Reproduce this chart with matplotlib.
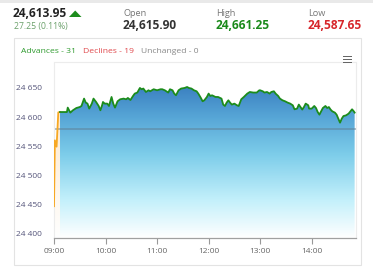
import numpy as np
import matplotlib
matplotlib.use("Agg")
import matplotlib.pyplot as plt
from matplotlib.colors import LinearSegmentedColormap
from matplotlib.patches import Polygon, Rectangle

# ---------------- data ----------------
# minutes after 09:00
pre_minutes = [0, 1, 3, 5, 7]
pre_values = [24446.6, 24560.0, 24549.0, 24608.0, 24608.6]

minutes = [7, 15, 16, 19, 22, 25, 26, 30, 32, 35, 37, 39, 41, 44, 46, 49, 52, 54, 56, 57,
           59, 62, 64, 67, 69, 71, 74, 77, 81, 84, 86, 89, 92, 94, 97, 100, 102, 104, 107, 110,
           112, 116, 120, 124, 126, 129, 133, 135, 138, 140, 142, 145, 148, 152, 155, 157, 160, 163, 166, 168,
           171, 173, 175, 178, 180, 182, 184, 188, 191, 195, 197, 199, 201, 203, 205, 207, 210, 213, 215, 218,
           221, 225, 228, 232, 236, 239, 240, 243, 245, 248, 251, 253, 256, 258, 261, 263, 266, 269, 272, 275,
           278, 280, 283, 285, 287, 289, 291, 293, 296, 297, 300, 303, 305, 307, 309, 311, 313, 316, 318, 320,
           322, 324, 327, 329, 331, 333, 335, 337, 340, 343, 347, 349, 350]
values = [24608.6, 24608.6, 24616.2, 24607.6, 24611.6, 24614.5, 24615.5, 24617.2, 24619.0, 24631.7,
          24624.8, 24623.1, 24614.5, 24623.1, 24631.7, 24625.9, 24619.0, 24611.6, 24620.2, 24625.9,
          24623.1, 24623.1, 24619.0, 24634.5, 24623.1, 24616.2, 24627.1, 24630.5, 24631.7, 24630.5,
          24632.8, 24629.3, 24636.2, 24640.3, 24642.1, 24650.0, 24647.8, 24649.0, 24643.1, 24646.0,
          24644.3, 24647.8, 24646.0, 24647.8, 24647.8, 24646.0, 24642.1, 24647.8, 24646.0, 24640.3,
          24637.4, 24646.0, 24649.0, 24650.0, 24651.7, 24650.0, 24649.0, 24646.0, 24644.3, 24640.3,
          24632.8, 24627.1, 24628.8, 24634.5, 24640.3, 24636.2, 24637.4, 24634.5, 24634.5, 24631.7,
          24621.4, 24619.0, 24624.8, 24628.8, 24624.8, 24621.4, 24623.1, 24620.2, 24619.0, 24630.5,
          24634.5, 24640.3, 24643.1, 24642.1, 24642.1, 24646.0, 24646.0, 24644.3, 24642.1, 24643.1,
          24640.3, 24643.1, 24644.3, 24640.3, 24636.2, 24631.7, 24628.8, 24627.1, 24624.8, 24623.1,
          24620.2, 24613.3, 24614.5, 24621.4, 24617.2, 24612.8, 24617.2, 24623.1, 24620.2, 24614.5,
          24614.5, 24619.0, 24615.5, 24608.6, 24604.1, 24609.8, 24615.5, 24619.0, 24615.5, 24617.2,
          24612.8, 24609.8, 24607.6, 24604.1, 24597.2, 24590.3, 24597.2, 24601.7, 24602.9, 24605.9,
          24613.3, 24609.8, 24607.6]

prev_close_line = 24580.0
y_ticks = [24400, 24450, 24500, 24550, 24600, 24650]
x_tick_minutes = [0, 60, 120, 180, 240, 300]
x_tick_labels = ["09:00", "10:00", "11:00", "12:00", "13:00", "14:00"]

last_price = "24,613.95"
change_text = "27.25 (0.11%)"
open_text, high_text, low_text = "24,615.90", "24,661.25", "24,587.65"
breadth_labels = ["Advances - 31", "Declines - 19", "Unchanged - 0"]

# ---------------- figure ----------------
W, H = 373, 269
fig = plt.figure(figsize=(W / 100, H / 100), dpi=100)
fig.patch.set_facecolor("white")

def fx(px):
    return px / W

def fy(py):
    return 1 - py / H

# top grey strip
fig.patches.append(Rectangle((0, fy(3)), 1, 3 / H, transform=fig.transFigure,
                             facecolor="#e9e9e9", edgecolor="none", zorder=-2))
# card border
fig.patches.append(Rectangle((fx(14), fy(264.5)), fx(361) - fx(14), (264.5 - 38) / H,
                             transform=fig.transFigure, facecolor="white",
                             edgecolor="#e3e3e3", linewidth=0.8, zorder=-2))

FONT = "Open Sans"
fig.text(fx(13), fy(14), last_price, fontsize=8.6, fontweight="bold", color="#222222",
         family=FONT, va="center", ha="left")
fig.patches.append(Polygon([[fx(69), fy(17)], [fx(81.5), fy(17)], [fx(75.2), fy(10.5)]],
                           closed=True, transform=fig.transFigure, facecolor="#1c8c1c",
                           edgecolor="none"))
fig.text(fx(14), fy(26.5), change_text, fontsize=6.2, color="#6aa06a", family=FONT,
         va="center", ha="left")

fig.text(fx(123), fy(13), "Open", fontsize=6.6, color="#777777", family=FONT, va="center")
fig.text(fx(123), fy(25.5), open_text, fontsize=8.6, fontweight="bold", color="#333333",
         family=FONT, va="center")
fig.text(fx(216), fy(13), "High", fontsize=6.6, color="#777777", family=FONT, va="center")
fig.text(fx(216), fy(25.5), high_text, fontsize=8.6, fontweight="bold", color="#1a8a1a",
         family=FONT, va="center")
fig.text(fx(308), fy(13), "Low", fontsize=6.6, color="#777777", family=FONT, va="center")
fig.text(fx(308), fy(25.5), low_text, fontsize=8.6, fontweight="bold", color="#d7262b",
         family=FONT, va="center")

bcolors = ["#2e9a2e", "#e0484c", "#888888"]
bx = [21, 83, 141]
for lab, c, x in zip(breadth_labels, bcolors, bx):
    fig.text(fx(x), fy(51.5), lab, fontsize=6.1, color=c, family=FONT, va="center")

# hamburger icon
for yy in (56.5, 59.5, 62.5):
    fig.patches.append(Rectangle((fx(342.5), fy(yy + 0.9)), fx(9.5), 1.8 / H,
                                 transform=fig.transFigure, facecolor="#666666",
                                 edgecolor="none", zorder=10))

# ---------------- axes ----------------
left, right, top, bottom = 54, 355.5, 62.5, 238.3
ax = fig.add_axes([fx(left), fy(bottom), fx(right) - fx(left), (bottom - top) / H])
ax.set_zorder(5)
ax.set_facecolor("white")
y0, y1 = 24391.4, 24693.8
ax.set_xlim(0, 351)
ax.set_ylim(y0, y1)

# gradient fill under the green series
cmap = LinearSegmentedColormap.from_list(
    "blu", [(0.0, "#ffffff"), (0.25, "#c3f0fb"), (0.55, "#7dcdea"), (0.8, "#56a5d6"),
            (1.0, "#3b80c1")])
grad = np.linspace(0, 1, 256).reshape(-1, 1)
gtop = max(values)
im = ax.imshow(grad, cmap=cmap, aspect="auto", origin="lower",
               extent=[0, 351, y0, gtop], zorder=1, interpolation="bicubic")
poly_xy = [(minutes[0], y0)] + list(zip(minutes, values)) + [(minutes[-1], y0)]
poly = Polygon(poly_xy, closed=True, facecolor="none", edgecolor="none")
ax.add_patch(poly)
im.set_clip_path(poly)

# pre-open orange fill
ocmap = LinearSegmentedColormap.from_list("org", ["#ffffff", "#fde8cc"])
im2 = ax.imshow(grad, cmap=ocmap, aspect="auto", origin="lower",
                extent=[0, 351, y0, max(pre_values)], zorder=1, interpolation="bicubic")
opoly = Polygon([(pre_minutes[0], y0)] + list(zip(pre_minutes, pre_values)) +
                [(pre_minutes[-1], y0)], closed=True, facecolor="none", edgecolor="none")
ax.add_patch(opoly)
im2.set_clip_path(opoly)
ax.set_xlim(0, 351)
ax.set_ylim(y0, y1)

ax.plot(pre_minutes, pre_values, color="#f7a823", lw=1.3, zorder=3, solid_joinstyle="round")
ax.plot(minutes, values, color="#1c8c1c", lw=1.3, zorder=3, solid_joinstyle="round")
ax.axhline(prev_close_line, color="#5f7f95", lw=1.3, alpha=0.55, zorder=2)

ax.set_yticks(y_ticks)
ax.set_yticklabels([f"{v:,}".replace(",", " ") for v in y_ticks])
ax.set_xticks(x_tick_minutes)
ax.set_xticklabels(x_tick_labels)
ax.tick_params(axis="y", length=0, pad=9, labelsize=6.0, labelcolor="#55557a")
ax.tick_params(axis="x", length=4, width=0.8, color="#999999", pad=3, labelsize=6.0,
               labelcolor="#666666")
for lab in ax.get_xticklabels() + ax.get_yticklabels():
    lab.set_family(FONT)

for s in ("top", "left", "right"):
    ax.spines[s].set_color("#ececec")
    ax.spines[s].set_linewidth(0.8)
ax.spines["bottom"].set_color("#a0a0a0")
ax.spines["bottom"].set_linewidth(0.9)

fig.savefig("out.png", dpi=100)
